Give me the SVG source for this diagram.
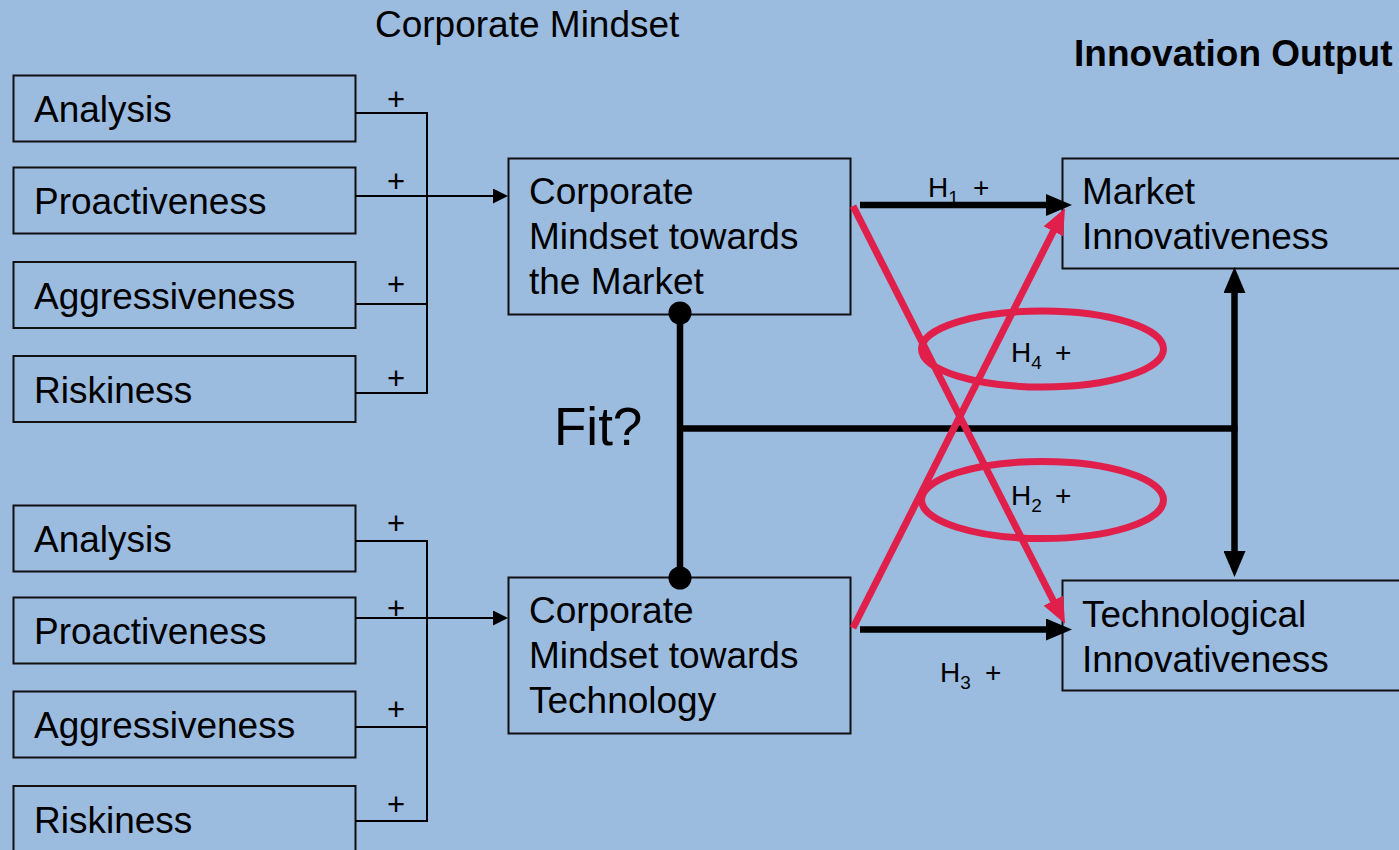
<svg xmlns="http://www.w3.org/2000/svg" width="1399" height="850" viewBox="0 0 1399 850">
  <style>
    text { font-family: "Liberation Sans", Arial, sans-serif; fill: #000; }
    .lbl { font-size: 37px; }
    .title-b { font-size: 37px; font-weight: bold; }
    .plus { font-size: 31px; text-anchor: middle; }
    .hyp { font-size: 28px; }
    .sub { font-size: 19px; }
    .box { fill: none; stroke: #111; stroke-width: 2; }
    .thin { fill: none; stroke: #000; stroke-width: 2; }
    .thick { fill: none; stroke: #000; stroke-width: 6.5; }
    .red { fill: none; stroke: #E0204A; stroke-width: 7; }
  </style>
  <defs>
    <marker id="arrSmall" viewBox="0 0 15 15" refX="7" refY="7.5" markerWidth="15" markerHeight="15" markerUnits="userSpaceOnUse" orient="auto">
      <path d="M0,0 L15,7.5 L0,15 z" fill="#000"/>
    </marker>
    <marker id="arrBlack" viewBox="0 0 26 22" refX="6" refY="11" markerWidth="26" markerHeight="22" markerUnits="userSpaceOnUse" orient="auto-start-reverse">
      <path d="M0,0 L26,11 L0,22 z" fill="#000"/>
    </marker>
    <marker id="arrRed" viewBox="0 0 26 22" refX="6" refY="11" markerWidth="26" markerHeight="22" markerUnits="userSpaceOnUse" orient="auto">
      <path d="M0,0 L26,11 L0,22 z" fill="#E0204A"/>
    </marker>
  </defs>

  <rect x="0" y="0" width="1399" height="850" fill="#9BBBDF"/>

  <!-- headings -->
  <text class="lbl" x="375" y="37">Corporate Mindset</text>
  <text class="title-b" x="1074" y="66">Innovation Output</text>
  <text x="554" y="445" style="font-size:53px">Fit?</text>

  <!-- market-side dimensions -->
  <g id="m-analysis"><rect class="box" x="13.5" y="75.5" width="342" height="66"/><text class="lbl" x="34" y="122">Analysis</text></g>
  <g id="m-proactiveness"><rect class="box" x="13.5" y="167.5" width="342" height="66"/><text class="lbl" x="34" y="214">Proactiveness</text></g>
  <g id="m-aggressiveness"><rect class="box" x="13.5" y="262" width="342" height="66"/><text class="lbl" x="34" y="308.5">Aggressiveness</text></g>
  <g id="m-riskiness"><rect class="box" x="13.5" y="356" width="342" height="66"/><text class="lbl" x="34" y="402.5">Riskiness</text></g>

  <!-- technology-side dimensions -->
  <g id="t-analysis"><rect class="box" x="13.5" y="505.5" width="342" height="66"/><text class="lbl" x="34" y="552">Analysis</text></g>
  <g id="t-proactiveness"><rect class="box" x="13.5" y="597.5" width="342" height="66"/><text class="lbl" x="34" y="644">Proactiveness</text></g>
  <g id="t-aggressiveness"><rect class="box" x="13.5" y="691.5" width="342" height="66"/><text class="lbl" x="34" y="738">Aggressiveness</text></g>
  <g id="t-riskiness"><rect class="box" x="13.5" y="786" width="342" height="70"/><text class="lbl" x="34" y="832.5">Riskiness</text></g>

  <!-- mindset constructs -->
  <g id="mindset-market">
    <rect class="box" x="508.5" y="158.5" width="342" height="156"/>
    <text class="lbl" x="529" y="204">Corporate</text>
    <text class="lbl" x="529" y="249">Mindset towards</text>
    <text class="lbl" x="529" y="294">the Market</text>
  </g>
  <g id="mindset-technology">
    <rect class="box" x="508.5" y="577.5" width="342" height="156"/>
    <text class="lbl" x="529" y="623">Corporate</text>
    <text class="lbl" x="529" y="668">Mindset towards</text>
    <text class="lbl" x="529" y="713">Technology</text>
  </g>

  <!-- innovation outcomes -->
  <g id="market-innovativeness">
    <rect class="box" x="1062.5" y="158.5" width="360" height="110"/>
    <text class="lbl" x="1082" y="204">Market</text>
    <text class="lbl" x="1082" y="249">Innovativeness</text>
  </g>
  <g id="technological-innovativeness">
    <rect class="box" x="1062.5" y="580.5" width="360" height="110"/>
    <text class="lbl" x="1082" y="627">Technological</text>
    <text class="lbl" x="1082" y="672">Innovativeness</text>
  </g>

  <g id="connectors">
    <!-- market dimension bracket -->
    <path class="thin" d="M355.5,113 H427 V393 H355.5 M355.5,304 H427"/>
    <line class="thin" x1="355.5" y1="196" x2="500" y2="196" marker-end="url(#arrSmall)"/>
    <!-- technology dimension bracket -->
    <path class="thin" d="M355.5,541 H427 V821 H355.5 M355.5,727 H427"/>
    <line class="thin" x1="355.5" y1="618" x2="500" y2="618" marker-end="url(#arrSmall)"/>

    <!-- fit link -->
    <line class="thick" x1="680" y1="313" x2="680" y2="578"/>
    <circle cx="680" cy="313" r="11.5" fill="#000"/>
    <circle cx="680" cy="578" r="11.5" fill="#000"/>
    <line class="thick" x1="680" y1="428.5" x2="1237.5" y2="428.5"/>
    <line class="thick" x1="1234.5" y1="287" x2="1234.5" y2="557" marker-start="url(#arrBlack)" marker-end="url(#arrBlack)"/>

    <!-- H1 and H3 -->
    <line class="thick" x1="860" y1="205" x2="1052" y2="205" marker-end="url(#arrBlack)"/>
    <line class="thick" x1="860" y1="629.5" x2="1052" y2="629.5" marker-end="url(#arrBlack)"/>

    <!-- H2 and H4 cross links -->
    <line class="red" x1="853" y1="206" x2="1056" y2="606" marker-end="url(#arrRed)"/>
    <line class="red" x1="853" y1="628" x2="1056" y2="226" marker-end="url(#arrRed)"/>
    <ellipse class="red" cx="1042.5" cy="349" rx="121" ry="38"/>
    <ellipse class="red" cx="1042.5" cy="500" rx="121" ry="38.5"/>
  </g>

  <!-- path signs -->
  <text class="plus" x="396" y="110">+</text>
  <text class="plus" x="396" y="192">+</text>
  <text class="plus" x="396" y="295">+</text>
  <text class="plus" x="396" y="389">+</text>
  <text class="plus" x="396" y="534">+</text>
  <text class="plus" x="396" y="619">+</text>
  <text class="plus" x="396" y="720">+</text>
  <text class="plus" x="396" y="815">+</text>

  <!-- hypothesis labels -->
  <text class="hyp" x="928" y="197">H<tspan class="sub" dy="7">1</tspan><tspan x="973" dy="-7">+</tspan></text>
  <text class="hyp" x="1011" y="362">H<tspan class="sub" dy="7">4</tspan><tspan x="1055" dy="-7">+</tspan></text>
  <text class="hyp" x="1011" y="505">H<tspan class="sub" dy="7">2</tspan><tspan x="1055" dy="-7">+</tspan></text>
  <text class="hyp" x="940" y="682">H<tspan class="sub" dy="7">3</tspan><tspan x="985" dy="-7">+</tspan></text>
</svg>
